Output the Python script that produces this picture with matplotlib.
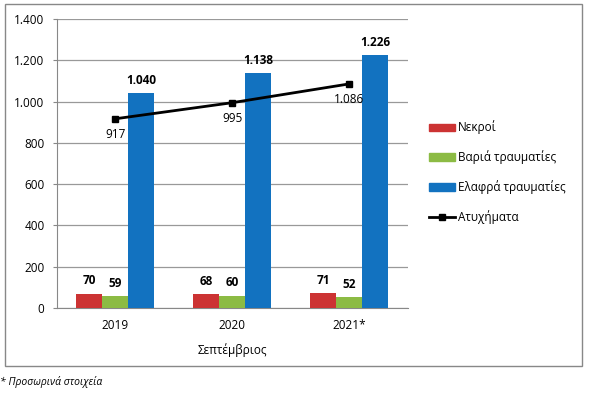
import numpy as np
import matplotlib.pyplot as plt
from matplotlib.patches import Rectangle
from matplotlib.lines import Line2D

plt.rcParams['font.family'] = ['Open Sans', 'DejaVu Sans']

# data
years = ['2019', '2020', '2021*']
nekroi = [70, 68, 71]
varia = [59, 60, 52]
elafra = [1040, 1138, 1226]
atyxhmata = [917, 995, 1086]
series_names = ['Νεκροί', 'Βαριά τραυματίες', 'Ελαφρά τραυματίες', 'Ατυχήματα']
yticks = [0, 200, 400, 600, 800, 1000, 1200, 1400]


def gr(v):
    # greek thousands separator
    return f"{v:,}".replace(',', '.')


fig = plt.figure(figsize=(6.06, 3.97), dpi=100)
ax = fig.add_axes([0.094, 0.224, 0.579, 0.728])

x = np.arange(len(years))
w = 0.222
colors = ['#CC3333', '#8CBB44', '#1272C0']
for i, (vals, c) in enumerate(zip([nekroi, varia, elafra], colors)):
    ax.bar(x + (i - 1) * w, vals, w, color=c, zorder=3)
    for xi, v in zip(x + (i - 1) * w, vals):
        ax.text(xi, v + 30, gr(v), ha='center', va='bottom', fontsize=8.5,
                fontweight='bold', zorder=5)

ax.plot(x, atyxhmata, color='black', lw=2, marker='s', ms=4.5, zorder=4)
for xi, v in zip(x, atyxhmata):
    ax.text(xi, v - 45, gr(v), ha='center', va='top', fontsize=8.5, zorder=5)

ax.set_xlim(-0.5, 2.5)
ax.set_ylim(0, 1400)
ax.set_yticks(yticks)
ax.set_yticklabels([gr(t) for t in yticks], fontsize=8.5)
ax.set_xticks(x)
ax.set_xticklabels(years, fontsize=8.5)
ax.tick_params(axis='x', length=0, pad=8)
ax.tick_params(axis='y', length=3, color='#888888', pad=6)
ax.grid(axis='y', color='#999999', lw=0.9, zorder=0)
for s in ['top', 'right']:
    ax.spines[s].set_visible(False)
for s in ['left', 'bottom']:
    ax.spines[s].set_color('#888888')
ax.set_xlabel('Σεπτέμβριος', fontsize=8.5, labelpad=8)

handles = [Rectangle((0, 0), 1, 1, color=c) for c in colors]
handles.append(Line2D([], [], color='black', lw=2, marker='s', ms=4))
fig.legend(handles, series_names, loc='upper left', bbox_to_anchor=(0.691, 0.723),
           frameon=False, fontsize=8.5, labelspacing=1.35, handlelength=2.2,
           handleheight=0.6, handletextpad=0.2)

# outer chart border
fig.patches.append(Rectangle((5 / 606, 1 - 366 / 397), 577 / 606, 362 / 397,
                             transform=fig.transFigure, fill=False,
                             edgecolor='#888888', lw=1))

fig.text(0.0, 1 - 382 / 397, '* Προσωρινά στοιχεία', fontsize=7.5,
         style='italic', va='center', ha='left')

plt.savefig('out.png', dpi=100)
